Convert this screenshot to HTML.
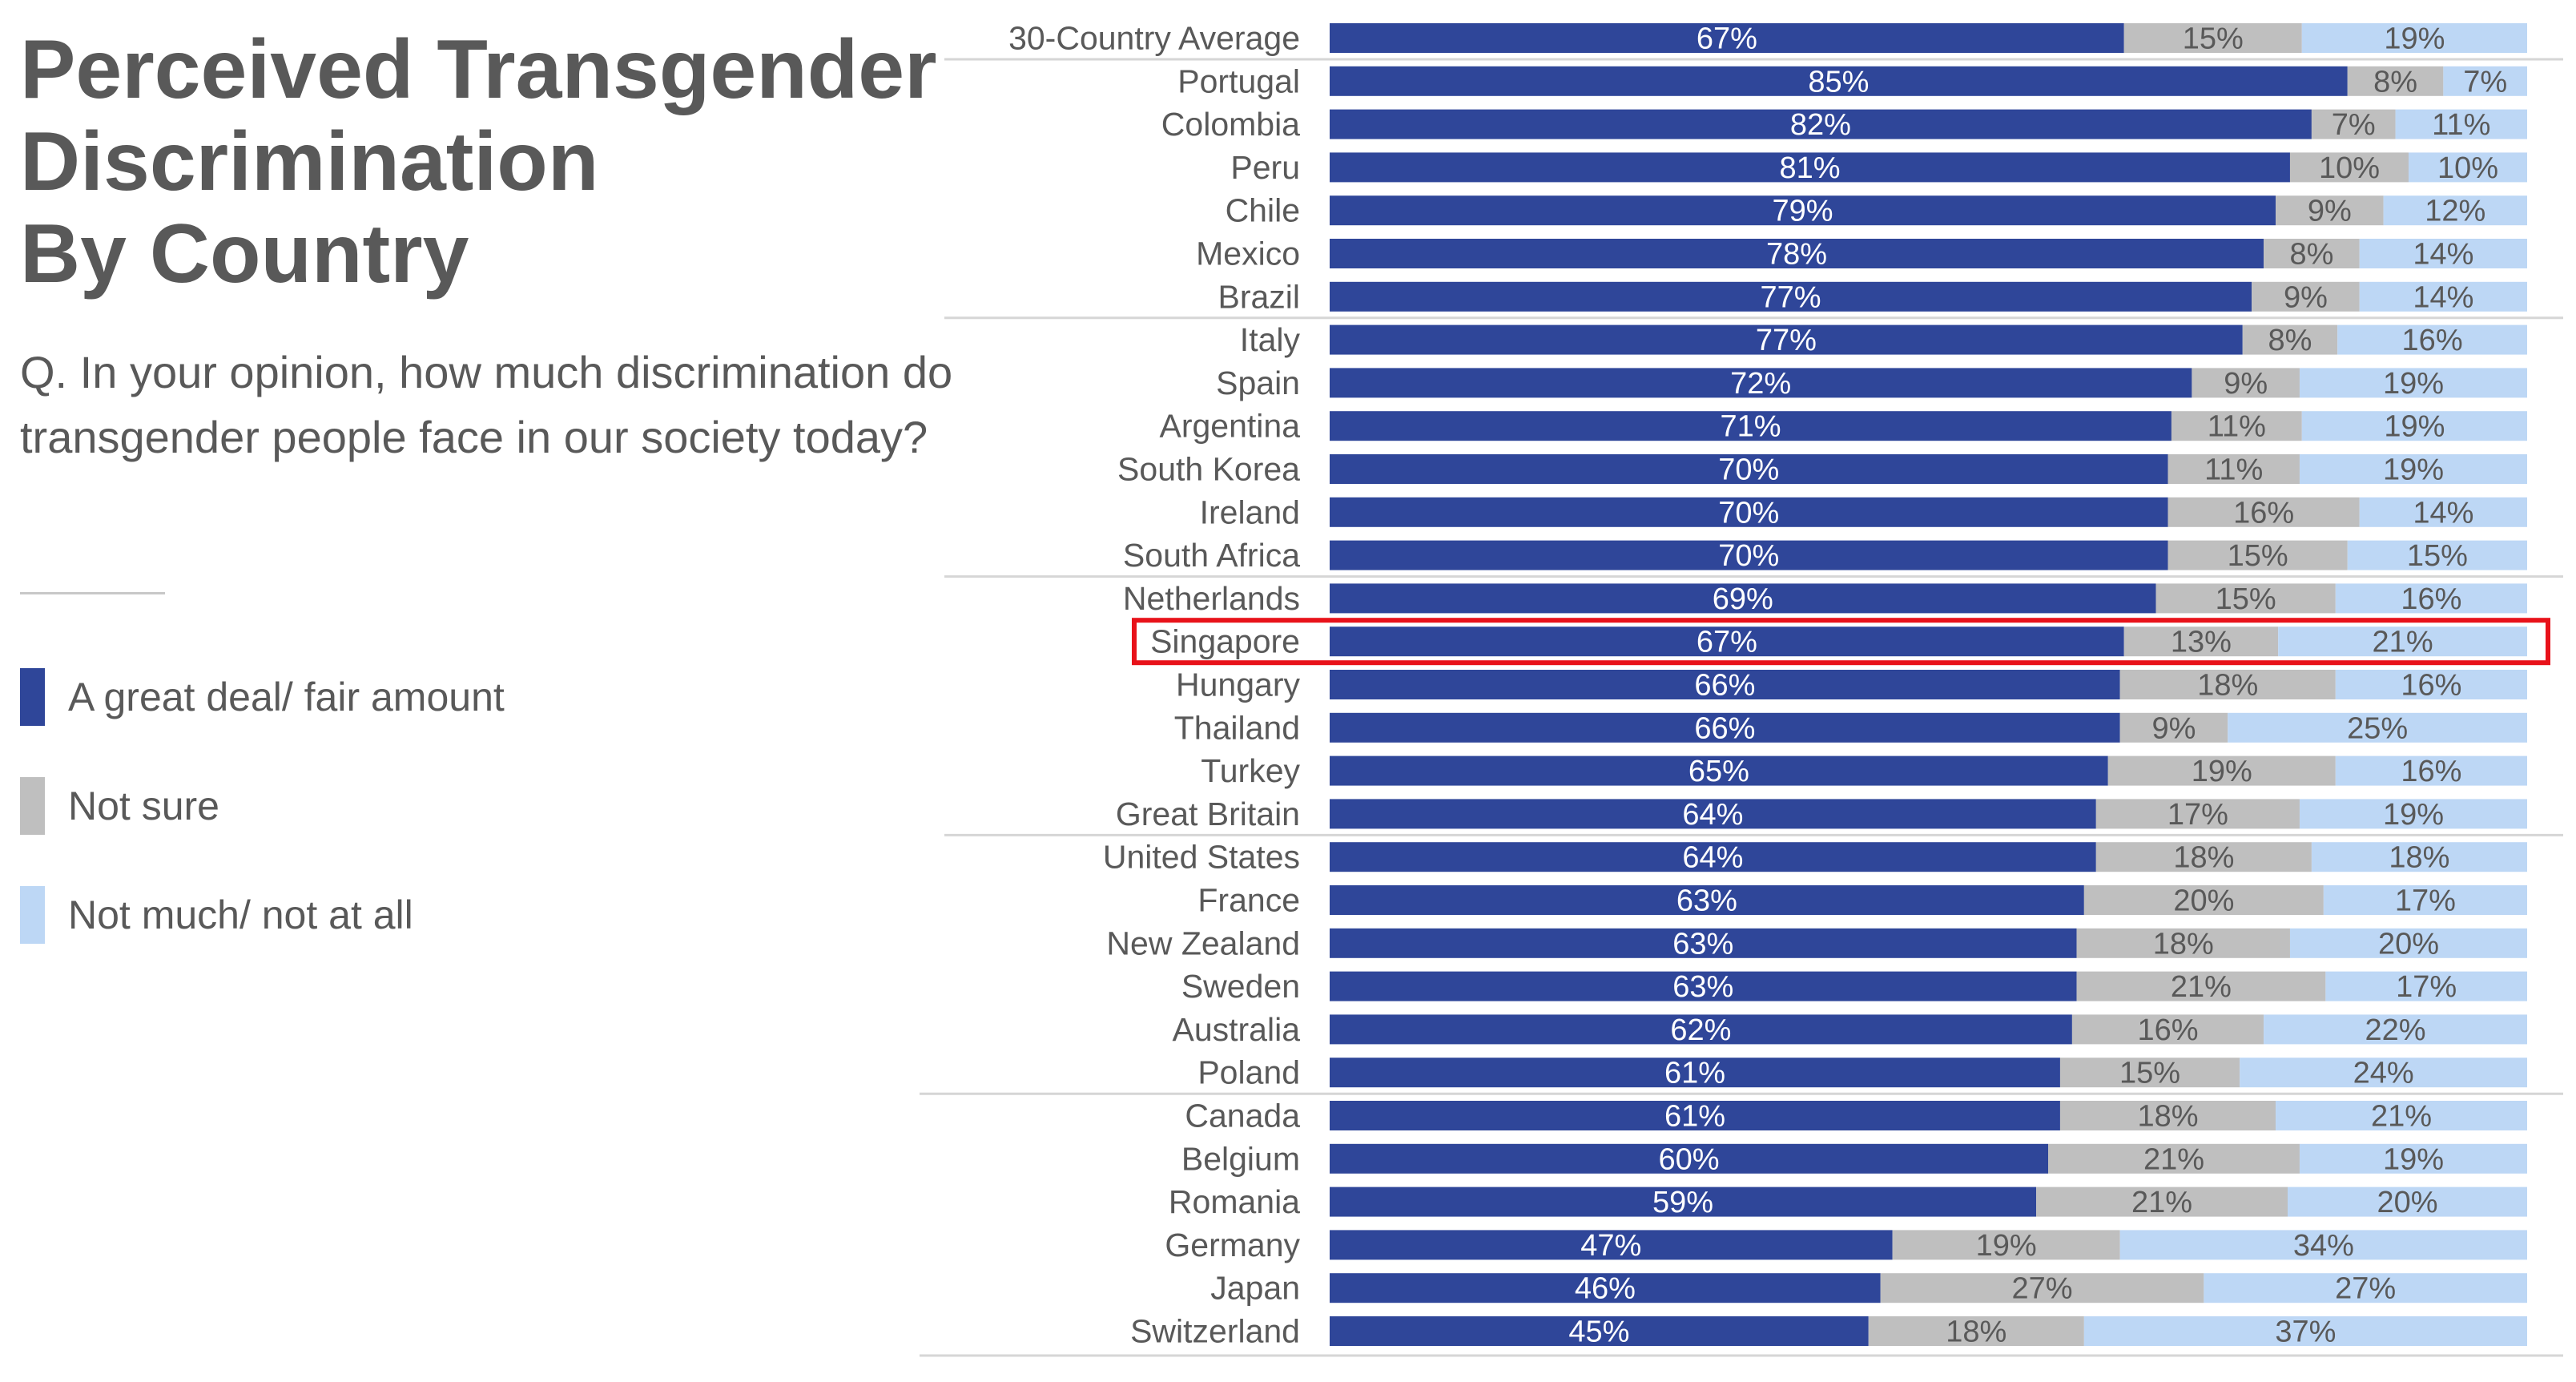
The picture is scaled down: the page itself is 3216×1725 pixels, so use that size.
<!DOCTYPE html>
<html><head><meta charset="utf-8"><style>
html,body{margin:0;padding:0;background:#fff;}
body{width:3216px;height:1725px;overflow:hidden;position:relative;font-family:"Liberation Sans",Arial,sans-serif;color:#595959;}
.title{position:absolute;left:25px;top:30px;font-size:104px;font-weight:bold;line-height:115px;color:#595959;margin:0;}
.q{position:absolute;left:25px;top:424px;font-size:56px;line-height:81px;width:1180px;}
.rule{position:absolute;left:25px;top:739px;width:181px;height:3px;background:#c8c8c8;}
.leg{position:absolute;left:25px;height:72px;display:flex;align-items:center;font-size:50px;}
.leg span.sw{width:31px;height:72px;margin-right:29px;display:inline-block;}
</style></head><body>
<h1 class="title">Perceived Transgender<br>Discrimination<br>By Country</h1>
<div class="q">Q. In your opinion, how much discrimination do transgender people face in our society today?</div>
<div class="rule"></div>
<div class="leg" style="top:834px"><span class="sw" style="background:#2f4699"></span>A great deal/ fair amount</div>
<div class="leg" style="top:970px"><span class="sw" style="background:#bfbfbf"></span>Not sure</div>
<div class="leg" style="top:1106px"><span class="sw" style="background:#bdd7f5"></span>Not much/ not at all</div>
<svg id="chart" width="3216" height="1725" style="position:absolute;left:0;top:0"></svg>
<script>
const countries=["30-Country Average","Portugal","Colombia","Peru","Chile","Mexico","Brazil","Italy","Spain","Argentina","South Korea","Ireland","South Africa","Netherlands","Singapore","Hungary","Thailand","Turkey","Great Britain","United States","France","New Zealand","Sweden","Australia","Poland","Canada","Belgium","Romania","Germany","Japan","Switzerland"];
const greatDeal=[67,85,82,81,79,78,77,77,72,71,70,70,70,69,67,66,66,65,64,64,63,63,63,62,61,61,60,59,47,46,45];
const notSure=[15,8,7,10,9,8,9,8,9,11,11,16,15,15,13,18,9,19,17,18,20,18,21,16,15,18,21,21,19,27,18];
const notMuch=[19,7,11,10,12,14,14,16,19,19,19,14,15,16,21,16,25,16,19,18,17,20,17,22,24,21,19,20,34,27,37];
const separatorsAfter=[0,6,12,18,24,30];
const highlight="Singapore";
const NS="http://www.w3.org/2000/svg";
const svg=document.getElementById('chart');
const x0=1660,x1=3155,top0=29,pitch=53.8,bh=37;
function yRow(i){return top0+i*pitch;}
function xs(sum,total){return x0+(x1-x0)*sum/total;}
function mk(t,a){const e=document.createElementNS(NS,t);for(const k in a)e.setAttribute(k,a[k]);svg.appendChild(e);return e;}
const colors=["#2f4699","#bfbfbf","#bdd7f5"],tcol=["#ffffff","#595959","#595959"];
const keys=["great-deal","not-sure","not-much"];
countries.forEach((c,i)=>{
  const vals=[greatDeal[i],notSure[i],notMuch[i]];
  const total=vals[0]+vals[1]+vals[2];
  const y=yRow(i);
  const lb=mk('text',{x:1623,y:y+bh/2+14,'text-anchor':'end','font-size':41,fill:'#595959','font-family':'Liberation Sans, Arial, sans-serif'});
  lb.textContent=c;
  
  
  let s=0;
  vals.forEach((v,k)=>{
    const xa=xs(s,total),xb=xs(s+v,total);
    const r=mk('rect',{x:xa,y:y,width:xb-xa,height:bh,fill:colors[k]});
    
    
    const t=mk('text',{x:(xa+xb)/2,y:y+bh/2+13,'text-anchor':'middle','font-size':38,fill:tcol[k],'font-family':'Liberation Sans, Arial, sans-serif'});
    t.textContent=v+'%';
    
    
    s+=v;
  });
  if(c===highlight){
    const h=mk('rect',{x:1416,y:y-8,width:1765,height:bh+16,fill:'none',stroke:'#e8121a','stroke-width':6});
    
    
  }
});
separatorsAfter.forEach((k,j)=>{
  const y=yRow(k)+bh+(k===30?12:8);
  const xl=(k>=24)?1148:1179;
  const l=mk('line',{x1:xl,x2:3200,y1:y,y2:y,stroke:'#d6d6d6','stroke-width':3});
  
  
});
</script>
</body></html>
